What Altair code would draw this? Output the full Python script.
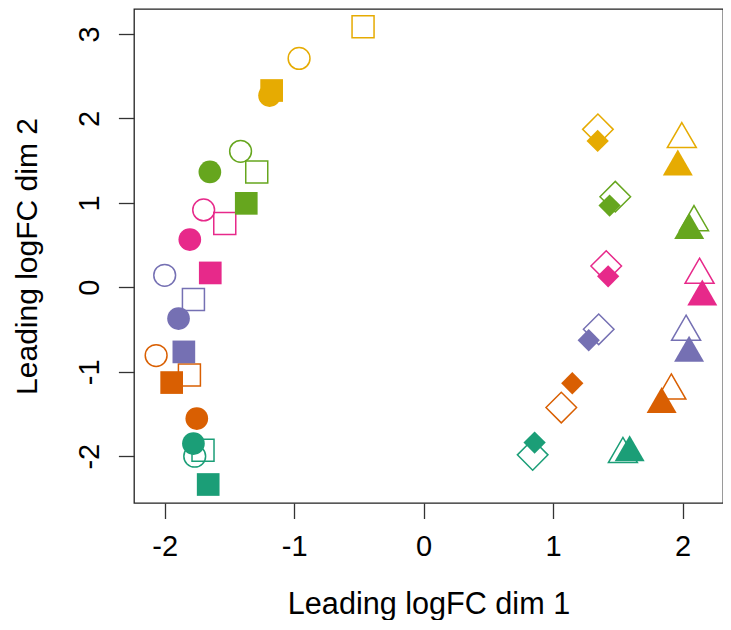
import altair as alt
import pandas as pd

# ---- data ----
groups = ["yellow", "green", "pink", "purple", "orange", "teal"]
group_colors = ["#E6AB02", "#66A61E", "#E7298A", "#7570B3", "#D95F02", "#1B9E77"]
shapes = ["open_circle", "filled_circle", "open_square", "filled_square",
          "open_diamond", "filled_diamond", "open_triangle", "filled_triangle"]

# dim1 / dim2 per group, in the order of `shapes`
dim1_yellow = [-0.962, -1.190, -0.468, -1.174, 1.346, 1.344, 1.994, 1.963]
dim2_yellow = [2.710, 2.270, 3.085, 2.330, 1.870, 1.733, 1.753, 1.425]
dim1_green = [-1.414, -1.651, -1.289, -1.370, 1.480, 1.436, 2.088, 2.051]
dim2_green = [1.610, 1.366, 1.366, 0.994, 1.073, 0.967, 0.769, 0.675]
dim1_pink = [-1.699, -1.806, -1.536, -1.648, 1.410, 1.425, 2.131, 2.152]
dim2_pink = [0.916, 0.565, 0.754, 0.170, 0.251, 0.130, 0.146, -0.114]
dim1_purple = [-2.000, -1.893, -1.778, -1.852, 1.352, 1.275, 2.027, 2.050]
dim2_purple = [0.142, -0.370, -0.146, -0.765, -0.497, -0.627, -0.528, -0.780]
dim1_orange = [-2.066, -1.752, -1.809, -1.946, 1.063, 1.148, 1.913, 1.838]
dim2_orange = [-0.808, -1.554, -1.037, -1.128, -1.424, -1.136, -1.224, -1.385]
dim1_teal = [-1.768, -1.778, -1.704, -1.664, 0.842, 0.857, 1.539, 1.591]
dim2_teal = [-2.000, -1.850, -1.930, -2.335, -1.984, -1.838, -1.976, -1.956]

x_ticks = [-2, -1, 0, 1, 2]
y_ticks = [-2, -1, 0, 1, 2, 3]
x_domain = [-2.237, 2.312]
y_domain = [-2.554, 3.295]

dim1 = [dim1_yellow, dim1_green, dim1_pink, dim1_purple, dim1_orange, dim1_teal]
dim2 = [dim2_yellow, dim2_green, dim2_pink, dim2_purple, dim2_orange, dim2_teal]

rows = []
for g, xs, ys in zip(groups, dim1, dim2):
    for s, xv, yv in zip(shapes, xs, ys):
        rows.append({"group": g, "shape": s, "dim1": xv, "dim2": yv})
df = pd.DataFrame(rows)

FONT = "Liberation Sans"
TRI = "M0,-1L0.866,0.5L-0.866,0.5Z"

x_enc = alt.X("dim1:Q", scale=alt.Scale(domain=x_domain, nice=False, zero=False),
              axis=alt.Axis(values=x_ticks, title="Leading logFC dim 1", grid=False, domain=False,
                            tickSize=15.5, tickColor="#333", tickWidth=1.3,
                            labelExpr="'' + datum.value",
                            labelFont=FONT, labelFontSize=29, labelColor="black",
                            labelBaseline="alphabetic", labelPadding=37, labelFlush=False,
                            labelOverlap=False,
                            titleFont=FONT, titleFontSize=30.6, titleFontWeight="normal",
                            titleColor="black", titleBaseline="alphabetic", titleY=110))
y_enc = alt.Y("dim2:Q", scale=alt.Scale(domain=y_domain, nice=False, zero=False),
              axis=alt.Axis(values=y_ticks, title="Leading logFC dim 2", grid=False, domain=False,
                            tickSize=15.6, tickColor="#333", tickWidth=1.3,
                            labelExpr="'' + datum.value",
                            labelFont=FONT, labelFontSize=29, labelColor="black",
                            labelAngle=-90, labelAlign="center", labelBaseline="alphabetic",
                            labelPadding=19.7, labelFlush=False, labelOverlap=False,
                            titleFont=FONT, titleFontSize=30, titleFontWeight="normal",
                            titleColor="black", titleBaseline="alphabetic", titleAngle=270,
                            titleX=-98, titleY=247))
c_enc = alt.Color("group:N", scale=alt.Scale(domain=groups, range=group_colors), legend=None)

base = alt.Chart(df).encode(x=x_enc, y=y_enc, color=c_enc)

def layer(shape_name, mark_shape, size, filled):
    if filled:
        m = base.mark_point(shape=mark_shape, size=size, filled=True, opacity=1)
    else:
        m = base.mark_point(shape=mark_shape, size=size, filled=False, opacity=1, strokeWidth=1.5)
    return m.transform_filter(alt.datum.shape == shape_name)

layers = [
    layer("open_circle", "circle", 475, False),
    layer("open_square", "square", 484, False),
    layer("open_diamond", "diamond", 936, False),
    layer("open_triangle", TRI, 1120, False),
    layer("filled_circle", "circle", 515, True),
    layer("filled_square", "square", 515, True),
    layer("filled_diamond", "diamond", 497, True),
    layer("filled_triangle", TRI, 1200, True),
]

chart = alt.layer(*layers).properties(
    width=589, height=494,
    autosize=alt.AutoSizeParams(type="none"),
    padding={"left": 126, "top": 1, "right": 0, "bottom": 117},
).configure_view(stroke="#222", strokeWidth=1.3)

chart.save("out.html", embed_options={"renderer": "svg", "actions": False})
